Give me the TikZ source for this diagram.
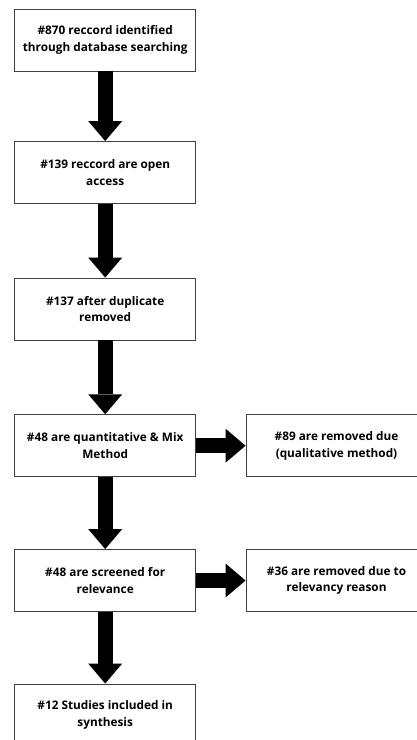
\documentclass[tikz,border=0pt]{standalone}
\usepackage{fontspec}
\setmainfont{Open Sans}
\usepackage{tikz}
\usetikzlibrary{arrows.meta}
\tikzset{
	box/.style={draw=black!75, line width=0.9pt, fill=white, minimum width=181pt, minimum height=62pt, inner sep=0pt, align=center, font=\bfseries\fontsize{11.8}{16.7}\selectfont},
	flow/.style={line width=15pt, black, -{Triangle[width=34pt,length=20pt,line width=0pt]}}
}

\begin{document}
\begin{tikzpicture}[x=1pt,y=-1pt]
					\useasboundingbox (0,0) rectangle (417,740);
					\node[box] (a) at (105.2,40) {\#870 reccord identified\\through database searching};
					\node[box] (b) at (105.2,172.5) {\#139 reccord are open\\access};
					\node[box] (c) at (105.2,309) {\#137 after duplicate\\removed};
					\node[box] (d) at (105.2,445.7) {\#48 are quantitative \& Mix\\Method};
					\node[box] (e) at (105.2,580.5) {\#48 are screened for\\relevance};
					\node[box] (f) at (105.2,715) {\#12 Studies included in\\synthesis};
					\node[box] (g) at (336.5,445.7) {\#89 are removed due\\(qualitative method)};
					\node[box] (h) at (336.5,580.5) {\#36 are removed due to\\relevancy reason};
					\draw[flow] (a) -- (b);
					\draw[flow] (b) -- (c);
					\draw[flow] (c) -- (d);
					\draw[flow] (d) -- (e);
					\draw[flow] (e) -- (f);
					\draw[flow] (d) -- (g);
					\draw[flow] (e) -- (h);
\end{tikzpicture}
\end{document}
